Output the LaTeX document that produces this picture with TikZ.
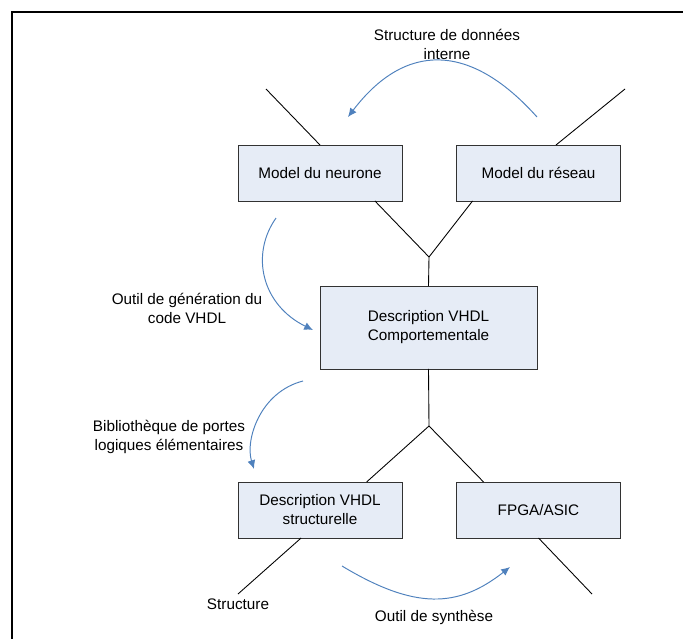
\documentclass[tikz,border=0pt]{standalone}
\usepackage{fontspec}
\setmainfont{Liberation Sans}
\usepackage{tikz}
\usetikzlibrary{shapes.geometric, arrows.meta}
\usetikzlibrary{positioning}

\definecolor{boxfill}{RGB}{230,236,246}
\definecolor{boxline}{RGB}{50,50,50}
\definecolor{flowblue}{RGB}{79,129,189}

\tikzset{
  box/.style={draw=boxline, fill=boxfill, line width=0.5pt, align=center,
    inner sep=0pt, outer sep=0pt, minimum width=3.28cm, minimum height=1.12cm},
  bigbox/.style={box, minimum width=4.34cm, minimum height=1.66cm},
  branch/.style={draw=black, line width=0.5pt},
  flow/.style={draw=flowblue, line width=0.55pt,
    -{Latex[length=5pt,width=4.5pt]}},
  lbl/.style={align=center, inner sep=0pt}
}

\begin{document}
\begin{tikzpicture}[x=0.02cm, y=-0.02cm, font=\fontsize{8.7pt}{10.8pt}\selectfont]

\useasboundingbox (0,0) rectangle (683,639);

% Frame (top and left edges only)
\draw[line width=1.1pt] (683,12) -- (12,12) -- (12,639);

% Boxes
\node[box] (neurone) at (320,173) {Model du neurone};
\node[box] (reseau) at (538.5,173) {Model du r\'eseau};
\node[bigbox] (comport) at (428.5,327.5) {Description VHDL\\Comportementale};
\node[box] (struct) at (320,510) {Description VHDL\\structurelle};
\node[box] (fpga) at (538.5,510) {FPGA/ASIC};

% Branch points and free ends
\coordinate (jtop) at (429,257);
\coordinate (jbot) at (429,426);
\coordinate (nfree) at (266,89);
\coordinate (rfree) at (625,89);
\coordinate (sfree) at (238,594);
\coordinate (ffree) at (592,594);

% Tree lines
\draw[branch] (neurone.north) -- (nfree);
\draw[branch] (reseau.58) -- (rfree);
\draw[branch] (neurone.-27) -- (jtop);
\draw[branch] (reseau.-157) -- (jtop);
\draw[branch] (jtop) -- (comport.north);
\draw[branch] (comport.south) -- (jbot);
\draw[branch] (jbot) -- (struct.31);
\draw[branch] (jbot) -- (fpga.153);
\draw[branch] (struct.-124) -- (sfree);
\draw[branch] (fpga.south) -- (ffree);

% Labels
\node[lbl] (lstruct) at (447,44) {Structure de donn\'ees\\interne};
\node[lbl] (lgen) at (187,308.5) {Outil de g\'en\'eration du\\code VHDL};
\node[lbl] (lbib) at (169,436.5) {Biblioth\`eque de portes\\logiques \'el\'ementaires};
\node[lbl] (lstr) at (238,604) {Structure};
\node[lbl] (lsyn) at (434,617) {Outil de synth\`ese};

% Curved arrows
\coordinate (a1s) at (537,117);
\coordinate (a1e) at (348,117);
\coordinate (a2s) at (276,218);
\coordinate (a2e) at (313,330);
\coordinate (a3s) at (303,381);
\coordinate (a3e) at (254,469);
\coordinate (a4s) at (342,566);
\coordinate (a4e) at (510,567);

\draw[flow] (a1s) .. controls (470,42) and (405,42) .. (a1e);
\draw[flow] (a2s) .. controls (250,255) and (262,305) .. (a2e);
\draw[flow] (a3s) .. controls (260,392) and (245,440) .. (a3e);
\draw[flow] (a4s) .. controls (415,610) and (458,608) .. (a4e);

\end{tikzpicture}
\end{document}
